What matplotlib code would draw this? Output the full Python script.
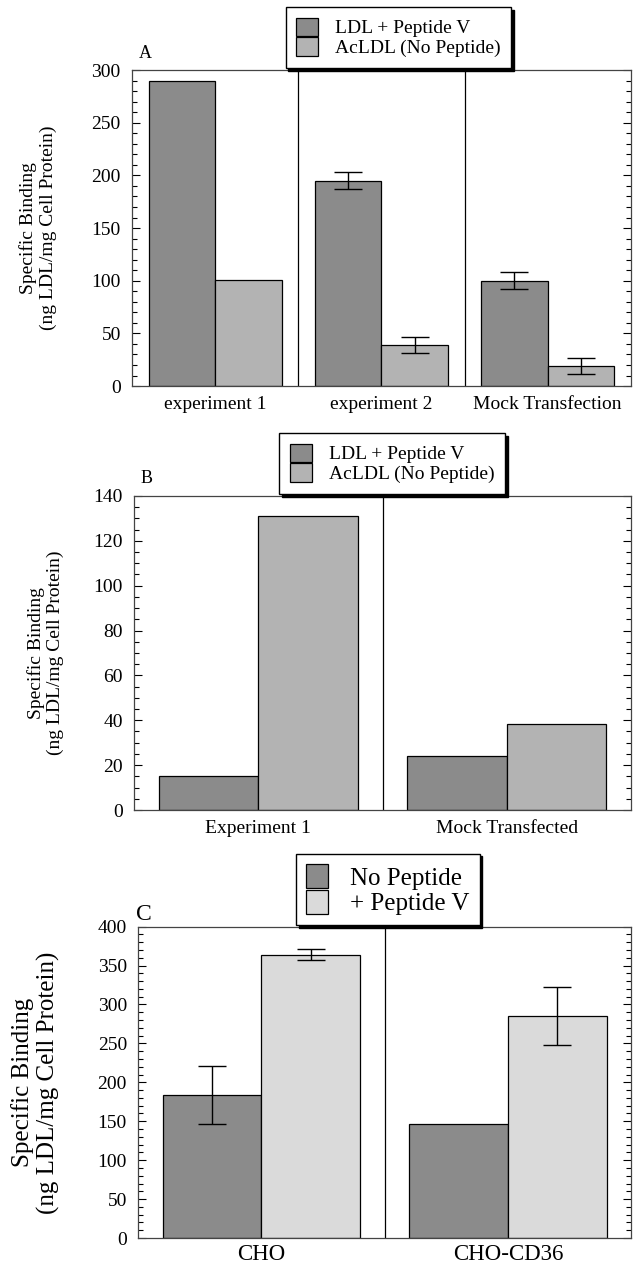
import numpy as np
import matplotlib
matplotlib.use('Agg')
import matplotlib.pyplot as plt
from matplotlib.ticker import MultipleLocator

plt.rcParams['font.family'] = ['Liberation Serif', 'DejaVu Serif']

# panel A
groups_a = ['experiment 1', 'experiment 2', 'Mock Transfection']
ldl_pep_a = [290, 195, 100]
ldl_pep_a_err = [0, 8, 8]
acldl_a = [101, 39, 19]
acldl_a_err = [0, 8, 8]
labels_a = ['LDL + Peptide V', 'AcLDL (No Peptide)']

# panel B
groups_b = ['Experiment 1', 'Mock Transfected']
ldl_pep_b = [15, 24]
acldl_b = [131, 38.5]
labels_b = ['LDL + Peptide V', 'AcLDL (No Peptide)']

# panel C
groups_c = ['CHO', 'CHO-CD36']
no_pep_c = [184, 147]
no_pep_c_err = [37, 0]
pep_v_c = [364, 285]
pep_v_c_err = [7, 37]
labels_c = ['No Peptide', '+ Peptide V']

dark = '#8b8b8b'
light_a = '#b3b3b3'
light_c = '#dadada'
ylab = 'Specific Binding\n(ng LDL/mg Cell Protein)'

fig = plt.figure(figsize=(6.34, 12.72), dpi=100)


def panel(rect, groups, vals1, vals2, err1, err2, col2, ymax, major, minor,
          letter, letter_y, leg_labels, leg_xy, big, ylab_x):
    ax = fig.add_axes(rect)
    x = np.arange(len(groups))
    w = 0.4
    b1 = ax.bar(x - w / 2, vals1, w, color=dark, edgecolor='black', linewidth=0.9, zorder=2)
    b2 = ax.bar(x + w / 2, vals2, w, color=col2, edgecolor='black', linewidth=0.9, zorder=2)
    # error bars, only where there is one
    for xs, v, e in [(x - w / 2, vals1, err1), (x + w / 2, vals2, err2)]:
        for xi, vi, ei in zip(xs, v, e):
            if ei > 0:
                ax.errorbar(xi, vi, yerr=ei, color='black', elinewidth=1, capsize=10,
                            capthick=1, zorder=3)
    for d in np.arange(0.5, len(groups) - 0.5):
        ax.axvline(d, color='black', linewidth=0.9, zorder=1)
    ax.set_xlim(-0.5, len(groups) - 0.5)
    ax.set_ylim(0, ymax)
    ax.set_xticks(x)
    ax.set_xticklabels(groups, fontsize=16.5 if big else 14)
    ax.tick_params(axis='x', length=0, pad=4 if big else 7)
    ax.yaxis.set_major_locator(MultipleLocator(major))
    ax.yaxis.set_minor_locator(MultipleLocator(minor))
    ax.tick_params(axis='y', which='both', direction='in', left=True, right=True,
                   labelsize=14, pad=8, width=0.8)
    ax.tick_params(axis='y', which='major', length=6)
    ax.tick_params(axis='y', which='minor', length=3.5)
    for s in ax.spines.values():
        s.set_linewidth(0.9)
        s.set_color('#444444')
    ax.text(ylab_x, 0.5, ylab, transform=ax.transAxes, rotation=90, ha='center',
            va='center', fontsize=18 if big else 14, multialignment='center')
    ax.text(-0.004 if big else 0.014, letter_y, letter, transform=ax.transAxes,
            fontsize=17 if big else 13, va='baseline')
    if big:
        leg = fig.legend([b1, b2], leg_labels, loc='center', bbox_to_anchor=leg_xy,
                         fontsize=18, frameon=True, fancybox=False,
                         shadow={'color': 'black', 'alpha': 1}, labelspacing=0,
                         handlelength=0.85, handleheight=1.15, handletextpad=0.9,
                         borderpad=0.4, borderaxespad=0)
    else:
        leg = fig.legend([b1, b2], leg_labels, loc='center', bbox_to_anchor=leg_xy,
                         fontsize=14, frameon=True, fancybox=False,
                         shadow={'color': 'black', 'alpha': 1}, labelspacing=0,
                         handlelength=1.1, handleheight=1.1, handletextpad=0.9,
                         borderpad=0.55, borderaxespad=0)
    leg.get_frame().set_edgecolor('black')
    leg.get_frame().set_linewidth(1)
    return ax


panel([0.208, 0.6965, 0.787, 0.2484], groups_a, ldl_pep_a, acldl_a, ldl_pep_a_err,
      acldl_a_err, light_a, 300, 50, 10, 'A', 1.038, labels_a, (0.6286, 0.9705), False, -0.188)
panel([0.2114, 0.3632, 0.784, 0.2469], groups_b, ldl_pep_b, acldl_b, [0, 0], [0, 0],
      light_a, 140, 20, 5, 'B', 1.041, labels_b, (0.619, 0.6356), False, -0.178)
panel([0.2177, 0.0267, 0.778, 0.2448], groups_c, no_pep_c, pep_v_c, no_pep_c_err,
      pep_v_c_err, light_c, 400, 50, 10, 'C', 1.021, labels_c, (0.612, 0.3007), True, -0.208)

plt.savefig('out.png', dpi=100)
